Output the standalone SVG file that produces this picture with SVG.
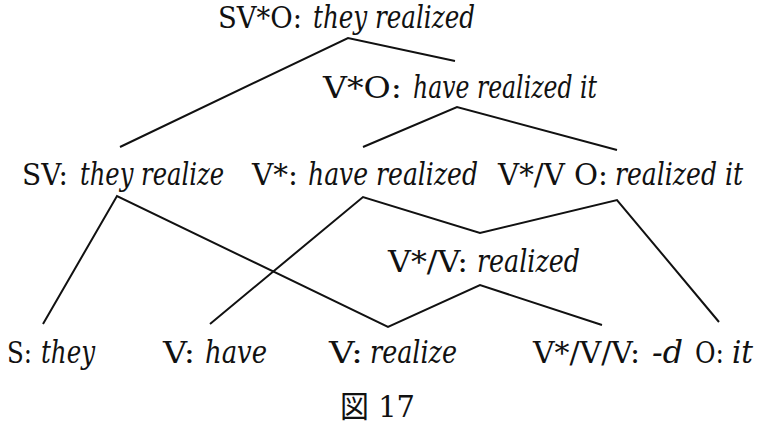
<svg xmlns="http://www.w3.org/2000/svg" width="772" height="438" viewBox="0 0 772 438">
<style>
text{font-family:"DejaVu Serif","Liberation Serif",serif;font-size:30px;fill:#111}
.i{font-style:italic;font-stretch:condensed;font-size:31px}
polyline{stroke:#111;stroke-width:2;fill:none}
</style>
<rect width="772" height="438" fill="#fff"/>
<g id="connectors">
<polyline points="120,147 348,38 455,61"/>
<polyline points="363,147 457,107 617,150"/>
<polyline points="43,324 117,196 388,327 480,285 602,325"/>
<polyline points="210,324 363,197 480,233 617,200 719,322"/>
</g>
<g id="n-svo"><text x="218" y="28" textLength="84" lengthAdjust="spacingAndGlyphs">SV*O:</text><text class="i" x="313" y="28" textLength="162" lengthAdjust="spacingAndGlyphs">they realized</text></g>
<g id="n-vo"><text x="323" y="98" textLength="79" lengthAdjust="spacingAndGlyphs">V*O:</text><text class="i" x="413" y="98" textLength="184" lengthAdjust="spacingAndGlyphs">have realized it</text></g>
<g id="n-sv"><text x="22" y="185" textLength="46" lengthAdjust="spacingAndGlyphs">SV:</text><text class="i" x="80" y="185" textLength="144" lengthAdjust="spacingAndGlyphs">they realize</text></g>
<g id="n-vstar"><text x="252" y="185" textLength="46" lengthAdjust="spacingAndGlyphs">V*:</text><text class="i" x="308" y="185" textLength="170" lengthAdjust="spacingAndGlyphs">have realized</text></g>
<g id="n-vvo"><text x="498" y="185" textLength="110" lengthAdjust="spacingAndGlyphs">V*/V O:</text><text class="i" x="615" y="185" textLength="128" lengthAdjust="spacingAndGlyphs">realized it</text></g>
<g id="n-vv"><text x="388" y="272" textLength="80" lengthAdjust="spacingAndGlyphs">V*/V:</text><text class="i" x="477" y="272" textLength="103" lengthAdjust="spacingAndGlyphs">realized</text></g>
<g id="n-s"><text x="7" y="363" textLength="25" lengthAdjust="spacingAndGlyphs">S:</text><text class="i" x="41" y="363" textLength="54" lengthAdjust="spacingAndGlyphs">they</text></g>
<g id="n-have"><text x="163" y="363" textLength="32" lengthAdjust="spacingAndGlyphs">V:</text><text class="i" x="205" y="363" textLength="62" lengthAdjust="spacingAndGlyphs">have</text></g>
<g id="n-realize"><text x="329" y="363" textLength="34" lengthAdjust="spacingAndGlyphs">V:</text><text class="i" x="370" y="363" textLength="87" lengthAdjust="spacingAndGlyphs">realize</text></g>
<g id="n-d"><text x="533" y="363" textLength="107" lengthAdjust="spacingAndGlyphs">V*/V/V:</text><text class="i" x="652" y="363" textLength="31" lengthAdjust="spacingAndGlyphs">-d</text></g>
<g id="n-o"><text x="695" y="363" textLength="29" lengthAdjust="spacingAndGlyphs">O:</text><text class="i" x="732" y="363" textLength="21" lengthAdjust="spacingAndGlyphs">it</text></g>
<text x="340" y="417" textLength="75" lengthAdjust="spacingAndGlyphs" style="font-family:'DejaVu Serif','Noto Sans CJK JP',serif">図 17</text>
</svg>
